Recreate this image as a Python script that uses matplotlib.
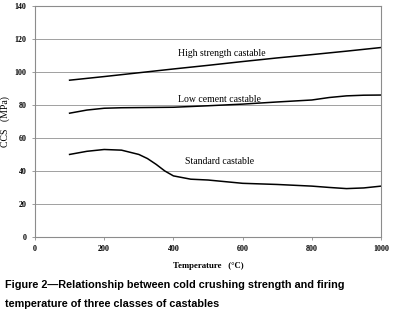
import matplotlib
matplotlib.use("Agg")
import matplotlib.pyplot as plt

temp_high = [100, 200, 300, 400, 500, 600, 700, 800, 900, 1000]
ccs_high = [95, 97.2, 99.5, 101.8, 104, 106.3, 108.5, 110.5, 112.6, 114.8]

temp_low = [100, 150, 200, 250, 300, 400, 500, 600, 700, 800, 850, 900, 950, 1000]
ccs_low = [75, 76.9, 78.0, 78.3, 78.4, 78.6, 79.5, 80.5, 81.8, 83, 84.5, 85.5, 85.9, 86]

temp_std = [100, 150, 200, 250, 300, 325, 350, 375, 400, 450, 500, 550, 600, 700, 800, 850, 900, 950, 1000]
ccs_std = [50, 51.9, 53, 52.6, 50, 47.5, 44, 40, 37, 35, 34.5, 33.5, 32.5, 31.8, 30.8, 30, 29.3, 29.7, 30.8]

series_labels = ["High strength castable", "Low cement castable", "Standard castable"]
x_ticks = [0, 200, 400, 600, 800, 1000]
y_ticks = [0, 20, 40, 60, 80, 100, 120, 140]

fig = plt.figure(figsize=(4.02, 3.30), dpi=100)
ax = fig.add_axes([0.087, 0.282, 0.861, 0.700])

for t, v in [(temp_high, ccs_high), (temp_low, ccs_low), (temp_std, ccs_std)]:
    ax.plot(t, v, color="black", lw=1.1, solid_joinstyle="round")

ax.set_xlim(0, 1000)
ax.set_ylim(0, 140)
ax.set_xticks(x_ticks)
ax.set_yticks(y_ticks)
ax.grid(axis="y", color="#a0a0a0", lw=0.7)
ax.set_axisbelow(True)
for s in ax.spines.values():
    s.set_color("#8c8c8c")
    s.set_linewidth(0.8)
ax.tick_params(axis="both", length=2, width=0.6, color="#8c8c8c", pad=4)
for lab in ax.get_xticklabels() + ax.get_yticklabels():
    lab.set_fontfamily("Liberation Serif")
    lab.set_fontweight("bold")
    lab.set_fontsize(5.8)

ax.set_xlabel("Temperature   (°C)", fontfamily="Liberation Serif", fontweight="bold", fontsize=6.3, labelpad=6)
ax.set_ylabel("CCS   (MPa)", fontfamily="Liberation Serif", fontsize=7, labelpad=3)

ax.text(413, 111, series_labels[0], fontfamily="Liberation Serif", fontsize=7, ha="left", va="center")
ax.text(413, 83.6, series_labels[1], fontfamily="Liberation Serif", fontsize=7, ha="left", va="center")
ax.text(433, 45.5, series_labels[2], fontfamily="Liberation Serif", fontsize=7, ha="left", va="center")

fig.text(0.012, 1 - 285 / 330, "Figure 2\u2014Relationship between cold crushing strength and firing",
         fontfamily="Liberation Sans", fontweight="bold", fontsize=7.8, ha="left", va="center")
fig.text(0.012, 1 - 304 / 330, "temperature of three classes of castables",
         fontfamily="Liberation Sans", fontweight="bold", fontsize=7.8, ha="left", va="center")

fig.savefig("out.png", dpi=100)
